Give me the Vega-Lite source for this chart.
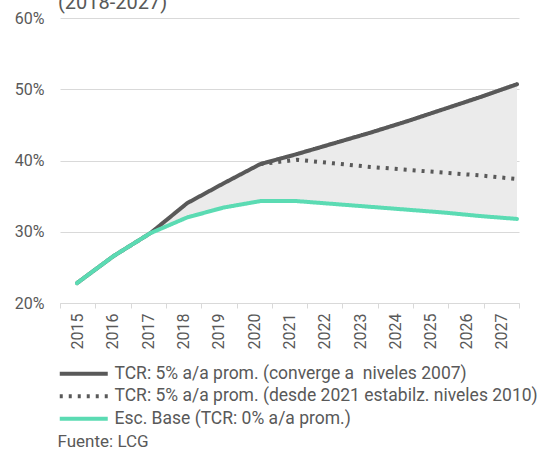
{
  "$schema": "https://vega.github.io/schema/vega-lite/v6.json",
  "width": 459,
  "height": 285,
  "autosize": {"type": "none"},
  "padding": {"left": 60, "top": 18, "right": 20, "bottom": 149},
  "background": "white",
  "config": {"font": "Roboto", "view": {"stroke": null}},
  "title": {"text": "(2018-2027)", "anchor": "start", "frame": "group", "fontSize": 20, "fontWeight": "normal", "color": "#595959", "baseline": "alphabetic", "offset": 0, "dy": 19, "dx": -2},
  "datasets": {
    "years": [{"year": 2015}, {"year": 2016}, {"year": 2017}, {"year": 2018}, {"year": 2019}, {"year": 2020}, {"year": 2021}, {"year": 2022}, {"year": 2023}, {"year": 2024}, {"year": 2025}, {"year": 2026}, {"year": 2027}],
    "wide": [
      {"year": 2015, "up": 22.8, "base": 22.8},
      {"year": 2016, "up": 26.6, "base": 26.6},
      {"year": 2017, "up": 29.8, "base": 29.8},
      {"year": 2018, "up": 34.0, "base": 32.0},
      {"year": 2019, "up": 36.8, "base": 33.4},
      {"year": 2020, "up": 39.5, "base": 34.3},
      {"year": 2021, "up": 40.9, "base": 34.3},
      {"year": 2022, "up": 42.4, "base": 33.9},
      {"year": 2023, "up": 43.9, "base": 33.5},
      {"year": 2024, "up": 45.5, "base": 33.1},
      {"year": 2025, "up": 47.2, "base": 32.7},
      {"year": 2026, "up": 48.9, "base": 32.2},
      {"year": 2027, "up": 50.7, "base": 31.8}
    ],
    "long": [
      {"year": 2015, "serie": "TCR: 5% a/a prom. (converge a\u00a0 niveles 2007)", "value": 22.8},
      {"year": 2016, "serie": "TCR: 5% a/a prom. (converge a\u00a0 niveles 2007)", "value": 26.6},
      {"year": 2017, "serie": "TCR: 5% a/a prom. (converge a\u00a0 niveles 2007)", "value": 29.8},
      {"year": 2018, "serie": "TCR: 5% a/a prom. (converge a\u00a0 niveles 2007)", "value": 34.0},
      {"year": 2019, "serie": "TCR: 5% a/a prom. (converge a\u00a0 niveles 2007)", "value": 36.8},
      {"year": 2020, "serie": "TCR: 5% a/a prom. (converge a\u00a0 niveles 2007)", "value": 39.5},
      {"year": 2021, "serie": "TCR: 5% a/a prom. (converge a\u00a0 niveles 2007)", "value": 40.9},
      {"year": 2022, "serie": "TCR: 5% a/a prom. (converge a\u00a0 niveles 2007)", "value": 42.4},
      {"year": 2023, "serie": "TCR: 5% a/a prom. (converge a\u00a0 niveles 2007)", "value": 43.9},
      {"year": 2024, "serie": "TCR: 5% a/a prom. (converge a\u00a0 niveles 2007)", "value": 45.5},
      {"year": 2025, "serie": "TCR: 5% a/a prom. (converge a\u00a0 niveles 2007)", "value": 47.2},
      {"year": 2026, "serie": "TCR: 5% a/a prom. (converge a\u00a0 niveles 2007)", "value": 48.9},
      {"year": 2027, "serie": "TCR: 5% a/a prom. (converge a\u00a0 niveles 2007)", "value": 50.7},
      {"year": 2020, "serie": "TCR: 5% a/a prom. (desde 2021 estabilz. niveles 2010)", "value": 39.5},
      {"year": 2021, "serie": "TCR: 5% a/a prom. (desde 2021 estabilz. niveles 2010)", "value": 40.1},
      {"year": 2022, "serie": "TCR: 5% a/a prom. (desde 2021 estabilz. niveles 2010)", "value": 39.6},
      {"year": 2023, "serie": "TCR: 5% a/a prom. (desde 2021 estabilz. niveles 2010)", "value": 39.1},
      {"year": 2024, "serie": "TCR: 5% a/a prom. (desde 2021 estabilz. niveles 2010)", "value": 38.7},
      {"year": 2025, "serie": "TCR: 5% a/a prom. (desde 2021 estabilz. niveles 2010)", "value": 38.3},
      {"year": 2026, "serie": "TCR: 5% a/a prom. (desde 2021 estabilz. niveles 2010)", "value": 37.9},
      {"year": 2027, "serie": "TCR: 5% a/a prom. (desde 2021 estabilz. niveles 2010)", "value": 37.4},
      {"year": 2015, "serie": "Esc. Base (TCR: 0% a/a prom.)", "value": 22.8},
      {"year": 2016, "serie": "Esc. Base (TCR: 0% a/a prom.)", "value": 26.6},
      {"year": 2017, "serie": "Esc. Base (TCR: 0% a/a prom.)", "value": 29.8},
      {"year": 2018, "serie": "Esc. Base (TCR: 0% a/a prom.)", "value": 32.0},
      {"year": 2019, "serie": "Esc. Base (TCR: 0% a/a prom.)", "value": 33.4},
      {"year": 2020, "serie": "Esc. Base (TCR: 0% a/a prom.)", "value": 34.3},
      {"year": 2021, "serie": "Esc. Base (TCR: 0% a/a prom.)", "value": 34.3},
      {"year": 2022, "serie": "Esc. Base (TCR: 0% a/a prom.)", "value": 33.9},
      {"year": 2023, "serie": "Esc. Base (TCR: 0% a/a prom.)", "value": 33.5},
      {"year": 2024, "serie": "Esc. Base (TCR: 0% a/a prom.)", "value": 33.1},
      {"year": 2025, "serie": "Esc. Base (TCR: 0% a/a prom.)", "value": 32.7},
      {"year": 2026, "serie": "Esc. Base (TCR: 0% a/a prom.)", "value": 32.2},
      {"year": 2027, "serie": "Esc. Base (TCR: 0% a/a prom.)", "value": 31.8}
    ]
  },
  "resolve": {"scale": {"x": "independent"}, "axis": {"x": "independent"}},
  "layer": [
    {
      "data": {"name": "years"},
      "mark": {"type": "rule", "opacity": 0},
      "encoding": {
        "x": {
          "field": "year", "type": "ordinal",
          "scale": {"type": "band", "paddingInner": 0, "paddingOuter": 0},
          "axis": {
            "orient": "bottom", "labelAngle": 270, "labelFontSize": 16, "labelColor": "#595959",
            "labelPadding": 5, "tickBand": "extent", "ticks": true, "tickSize": 5, "tickColor": "#d9d9d9",
            "domain": true, "domainColor": "#d9d9d9", "grid": false,
            "title": "Fuente: LCG", "titleX": -3, "titleY": 138, "titleAlign": "left", "titleAnchor": "start",
            "titleBaseline": "middle", "titleFontSize": 17, "titleFontWeight": "normal", "titleColor": "#595959"
          }
        }
      }
    },
    {
      "layer": [
        {
          "data": {"name": "wide"},
          "mark": {"type": "area", "color": "#ebebeb"},
          "encoding": {
            "x": {"field": "year", "type": "quantitative", "scale": {"domain": [2014.536, 2027.055], "nice": false, "zero": false}, "axis": null},
            "y": {
              "field": "up", "type": "quantitative",
              "scale": {"domain": [20, 60], "nice": false, "zero": false},
              "axis": {"values": [20, 30, 40, 50, 60], "labelExpr": "datum.value + '%'", "grid": true, "gridColor": "#d9d9d9",
                       "domain": false, "ticks": false, "labelPadding": 16, "labelFontSize": 16, "labelColor": "#595959", "title": null}
            },
            "y2": {"field": "base"}
          }
        },
        {
          "data": {"name": "long"},
          "transform": [{"filter": {"field": "serie", "equal": "TCR: 5% a/a prom. (converge a\u00a0 niveles 2007)"}}],
          "mark": {"type": "line", "strokeCap": "round", "strokeJoin": "round"},
          "encoding": {
            "x": {"field": "year", "type": "quantitative", "scale": {"domain": [2014.536, 2027.055], "nice": false, "zero": false}, "axis": null},
            "y": {"field": "value", "type": "quantitative"},
            "color": {"field": "serie", "type": "nominal", "title": null,
              "scale": {"domain": ["TCR: 5% a/a prom. (converge a\u00a0 niveles 2007)", "TCR: 5% a/a prom. (desde 2021 estabilz. niveles 2010)", "Esc. Base (TCR: 0% a/a prom.)"], "range": ["#595959", "#595959", "#5bdbb3"]},
              "legend": {"orient": "none", "legendX": 15, "legendY": 347, "symbolType": "M-4,0H4", "symbolSize": 144,
                         "labelFontSize": 17.5, "labelColor": "#595959", "labelLimit": 0, "labelOffset": 22, "rowPadding": 3.5}},
            "strokeDash": {"field": "serie", "type": "nominal", "title": null,
              "scale": {"domain": ["TCR: 5% a/a prom. (converge a\u00a0 niveles 2007)", "TCR: 5% a/a prom. (desde 2021 estabilz. niveles 2010)", "Esc. Base (TCR: 0% a/a prom.)"], "range": [[1, 0], [3, 6], [1, 0]]}},
            "strokeWidth": {"field": "serie", "type": "nominal", "title": null,
              "scale": {"domain": ["TCR: 5% a/a prom. (converge a\u00a0 niveles 2007)", "TCR: 5% a/a prom. (desde 2021 estabilz. niveles 2010)", "Esc. Base (TCR: 0% a/a prom.)"], "range": [4, 4, 7]}}
          }
        },
        {
          "data": {"name": "long"},
          "transform": [{"filter": {"field": "serie", "equal": "TCR: 5% a/a prom. (desde 2021 estabilz. niveles 2010)"}}],
          "mark": {"type": "line", "strokeCap": "butt", "strokeJoin": "round"},
          "encoding": {
            "x": {"field": "year", "type": "quantitative", "scale": {"domain": [2014.536, 2027.055], "nice": false, "zero": false}, "axis": null},
            "y": {"field": "value", "type": "quantitative"},
            "color": {"field": "serie", "type": "nominal", "title": null},
            "strokeDash": {"field": "serie", "type": "nominal", "title": null},
            "strokeWidth": {"field": "serie", "type": "nominal", "title": null}
          }
        },
        {
          "data": {"name": "long"},
          "transform": [{"filter": {"field": "serie", "equal": "Esc. Base (TCR: 0% a/a prom.)"}}],
          "mark": {"type": "line", "strokeCap": "round", "strokeJoin": "round"},
          "encoding": {
            "x": {"field": "year", "type": "quantitative", "scale": {"domain": [2014.536, 2027.055], "nice": false, "zero": false}, "axis": null},
            "y": {"field": "value", "type": "quantitative"},
            "color": {"field": "serie", "type": "nominal", "title": null},
            "strokeDash": {"field": "serie", "type": "nominal", "title": null},
            "strokeWidth": {"field": "serie", "type": "nominal", "title": null}
          }
        }
      ]
    }
  ]
}
